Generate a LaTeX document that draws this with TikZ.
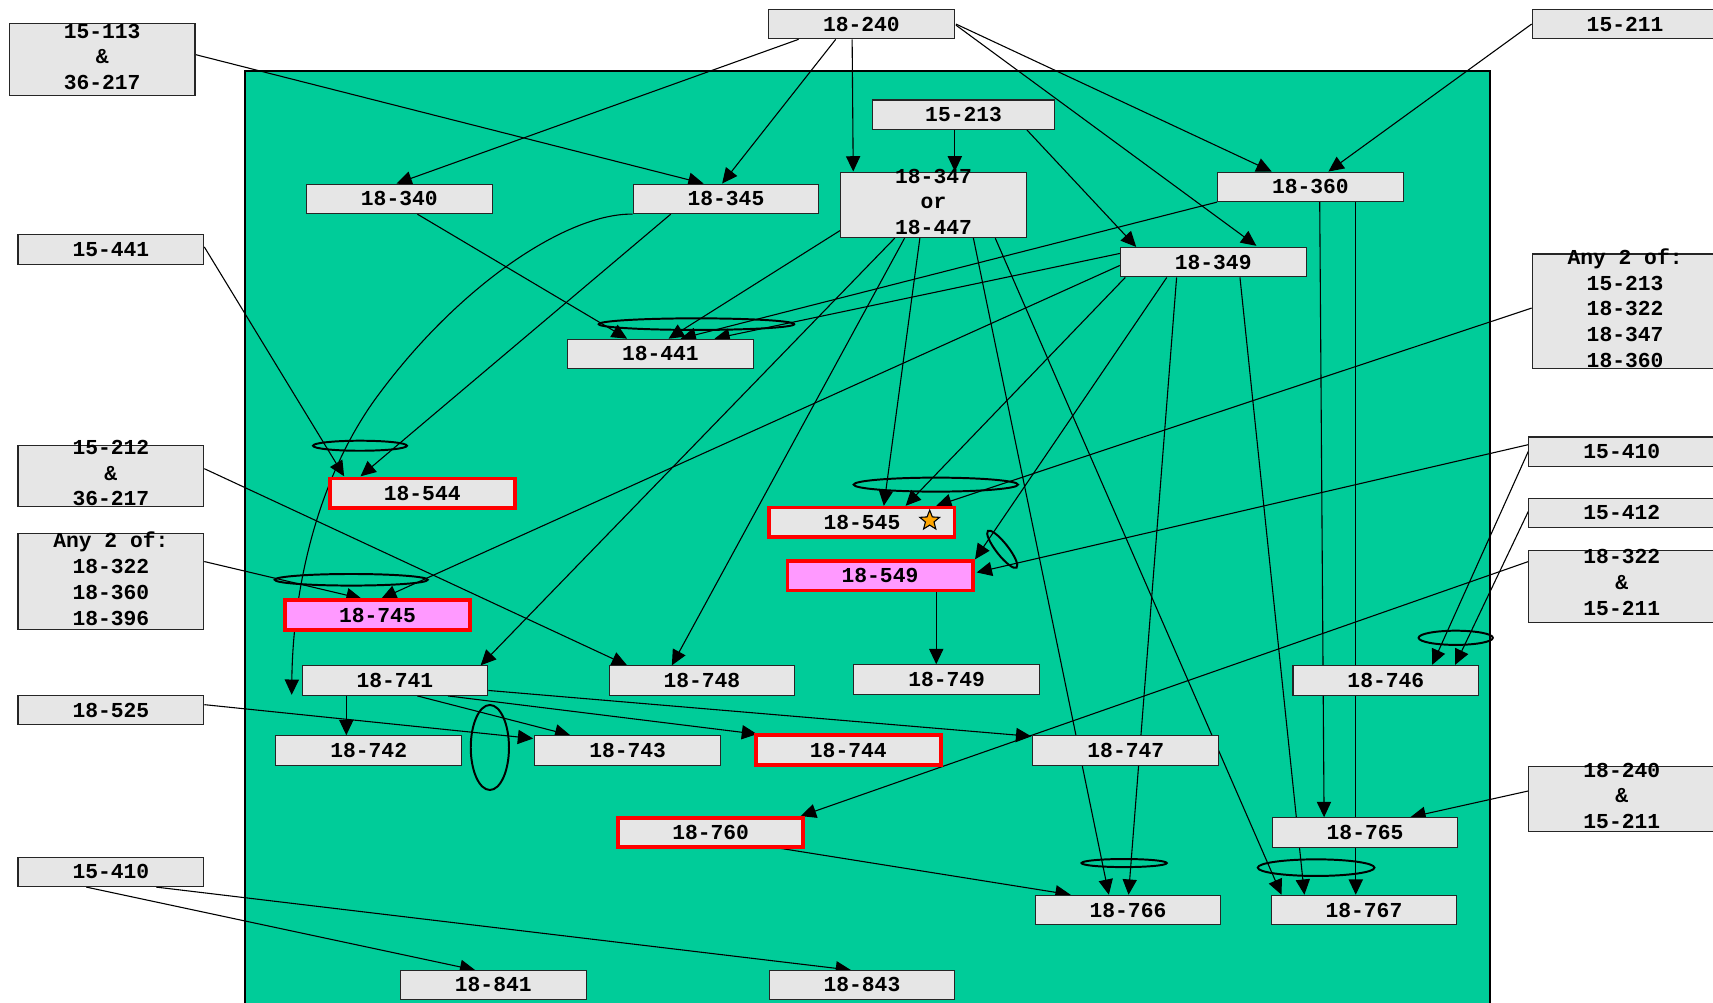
\documentclass[tikz,border=0pt]{standalone}
\usepackage{fontspec}
\newfontfamily\boxfont{Liberation Mono}
\usetikzlibrary{arrows.meta,shapes.geometric}
\definecolor{panelgreen}{HTML}{00CC99}
\definecolor{boxgray}{HTML}{E6E6E6}
\definecolor{hotpink}{HTML}{FF99FF}
\definecolor{starorange}{HTML}{FFA500}
\pgfdeclarelayer{bg}
\pgfdeclarelayer{edges}
\pgfsetlayers{bg,edges,main}

\begin{document}
\begin{tikzpicture}[x=1pt,y=-1pt,
  course/.style={draw=black!85, line width=1pt, fill=boxgray,
    minimum width=170pt, minimum height=27pt, inner sep=0pt,
    font=\boxfont\bfseries\fontsize{19.5}{23.6}\selectfont, align=center},
  flagged/.style={course, draw=red, line width=3.5pt,
    minimum width=169.5pt, minimum height=27pt},
  core/.style={flagged, fill=hotpink},
  lbl/.style={inner sep=0pt, align=center,
    font=\boxfont\bfseries\fontsize{19.5}{23.6}\selectfont},
  req/.style={draw=black, line width=1pt, -{Triangle[length=14pt,width=13pt]}},
  grp/.style={draw=black, line width=1.8pt},
]
\useasboundingbox (0,0) rectangle (1568,918);

% ---------- outer course boxes ----------
\node[course, minimum height=66pt] (n113) at (93.5,54.5) {};
\node[lbl] (n113txt) at (93.5,52) {15-113\\\&\\36-217};
\node[course] (n15441) at (101.5,228.5) {15-441};
\node[course, minimum height=56pt] (n212) at (101.5,435.5) {};
\node[lbl] (n212txt) at (101.5,433) {15-212\\\&\\36-217};
\node[course, minimum height=88pt] (nany3) at (101.5,532.5) {};
\node[lbl] (nany3txt) at (101.5,529.7) {Any 2 of:\\18-322\\18-360\\18-396};
\node[course] (n525) at (101.5,650) {18-525};
\node[course] (n410l) at (101.5,798) {15-410};

\node[course] (n240) at (788.5,22) {18-240};
\node[course, minimum width=167pt] (n213) at (882,105) {15-213};
\node[course] (n211) at (1487.5,22) {15-211};

\node[course, minimum height=105pt] (nany4) at (1487.5,285) {};
\node[lbl] (nany4txt) at (1487.5,282) {Any 2 of:\\15-213\\18-322\\18-347\\18-360};
\node[course] (n410r) at (1484.5,413.5) {15-410};
\node[course] (n412) at (1484.5,469.5) {15-412};
\node[course, minimum height=66pt] (n322) at (1484.5,536.5) {};
\node[lbl] (n322txt) at (1484.5,533.2) {18-322\\\&\\15-211};
\node[course, minimum height=60pt] (n240b) at (1484.5,731.5) {};
\node[lbl] (n240btxt) at (1484.5,728.5) {18-240\\\&\\15-211};

% ---------- courses inside the panel ----------
\node[course] (n340) at (365.5,182) {18-340};
\node[course] (n345) at (664.5,182) {18-345};
\node[course, minimum height=60pt] (n347) at (854.5,187.5) {};
\node[lbl] (n347txt) at (854.5,184.7) {18-347\\or\\18-447};
\node[course] (n360) at (1199.5,171) {18-360};
\node[course] (n349) at (1110.5,240) {18-349};
\node[course] (n441) at (604.5,324) {18-441};
\node[flagged] (n544) at (386.5,451.5) {18-544};
\node[core] (n745) at (345.5,563) {18-745};
\node[course] (n741) at (361.5,623) {18-741};
\node[course] (n742) at (337.5,687) {18-742};
\node[course] (n743) at (574.5,687) {18-743};
\node[flagged] (n545) at (789,478) {18-545};
\node[star, star points=5, star point ratio=2.3, draw=black, line width=1pt,
      fill=starorange, minimum size=19pt, inner sep=0pt] (n545star) at (851,476.5) {};
\node[core] (n549) at (805.5,527) {18-549};
\node[course] (n748) at (642.5,623) {18-748};
\node[course] (n749) at (866.5,622) {18-749};
\node[flagged] (n744) at (776.5,686.5) {18-744};
\node[course] (n747) at (1030.5,687) {18-747};
\node[course] (n746) at (1268.5,623) {18-746};
\node[flagged] (n760) at (650.5,762) {18-760};
\node[course] (n765) at (1249.5,762) {18-765};
\node[course] (n766) at (1032.5,833) {18-766};
\node[course] (n767) at (1248.5,833) {18-767};
\node[course] (n841) at (451.5,901.5) {18-841};
\node[course] (n843) at (789,901.5) {18-843};

\coordinate (c345end) at (267,636);

% ---------- panel ----------
\begin{pgfonlayer}{bg}
  \fill[panelgreen, draw=black, line width=2pt] (224.5,65) rectangle (1364,935);
\end{pgfonlayer}

% ---------- prerequisite arrows ----------
\begin{pgfonlayer}{edges}
\draw[req] ([shift={(-57.5,14)}]n240.center) -- ([shift={(-2.5,-14)}]n340.center);
\draw[req] ([shift={(-23.5,14)}]n240.center) -- ([shift={(-3.5,-14)}]n345.center);
\draw[req] ([shift={(-8.5,14)}]n240.center) -- ([shift={(-73.5,-30.5)}]n347.center);
\draw[req] ([shift={(86.5,1)}]n240.center) -- ([shift={(39.5,-15)}]n349.center);
\draw[req] ([shift={(86.5,0)}]n240.center) -- ([shift={(-35.5,-14)}]n360.center);
\draw[req] ([shift={(-8,14)}]n213.center) -- ([shift={(19.5,-30.5)}]n347.center);
\draw[req] ([shift={(58,14)}]n213.center) -- ([shift={(-70.5,-14)}]n349.center);
\draw[req] ([shift={(85.5,-4.5)}]n113.center) -- ([shift={(-20.5,-14)}]n345.center);
\draw[req] ([shift={(-85.5,0)}]n211.center) -- ([shift={(16.5,-14)}]n360.center);

\draw[req] ([shift={(16.5,14)}]n340.center) -- ([shift={(-30.5,-14)}]n441.center);
\draw[req] ([shift={(-85.5,23.5)}]n347.center) -- ([shift={(7.5,-14)}]n441.center);
\draw[req] ([shift={(-85.5,14)}]n360.center) -- ([shift={(18.5,-14)}]n441.center);
\draw[req] ([shift={(-85.5,-8)}]n349.center) -- ([shift={(49.5,-14)}]n441.center);

\draw[req] (n345.south west) .. controls (520,195) and (420,260) .. (343,366)
  .. controls (290,440) and (268,540) .. (c345end);
\draw[req] ([shift={(-50.5,14)}]n345.center) -- ([shift={(-56.5,-15.5)}]n544.center);
\draw[req] ([shift={(85.5,-2.5)}]n15441.center) -- ([shift={(-71.5,-15.5)}]n544.center);
\draw[req] ([shift={(85.5,-6.5)}]n212.center) -- ([shift={(-68.5,-14)}]n748.center);
\draw[req] ([shift={(85.5,-18.5)}]nany3.center) -- ([shift={(-14.5,-15)}]n745.center);
\draw[req] ([shift={(-85.5,3)}]n349.center) -- ([shift={(3.5,-15)}]n745.center);

\draw[req] ([shift={(-35.5,30.5)}]n347.center) -- ([shift={(78.5,-14)}]n741.center);
\draw[req] ([shift={(-26.5,30.5)}]n347.center) -- ([shift={(-27.5,-14)}]n748.center);
\draw[req] ([shift={(-12.5,30.5)}]n347.center) -- ([shift={(20,-15)}]n545.center);
\draw[req] ([shift={(36.5,30.5)}]n347.center) -- ([shift={(-17.5,-14)}]n766.center);
\draw[req] ([shift={(56.5,30.5)}]n347.center) -- ([shift={(-75.5,-14)}]n767.center);

\draw[req] ([shift={(8.5,14)}]n360.center) -- ([shift={(-37.5,-14)}]n765.center);
\draw[req] ([shift={(41.5,14)}]n360.center) -- ([shift={(-7.5,-14)}]n767.center);

\draw[req] ([shift={(-80.5,14)}]n349.center) -- ([shift={(40,-15)}]n545.center);
\draw[req] ([shift={(-42.5,14)}]n349.center) -- ([shift={(87,-15)}]n549.center);
\draw[req] ([shift={(-33.5,14)}]n349.center) -- ([shift={(0.5,-14)}]n766.center);
\draw[req] ([shift={(24.5,14)}]n349.center) -- ([shift={(-54.5,-14)}]n767.center);

\draw[req] ([shift={(-44.5,14)}]n741.center) -- ([shift={(-20.5,-14)}]n742.center);
\draw[req] ([shift={(20.5,14)}]n741.center) -- ([shift={(-52.5,-14)}]n743.center);
\draw[req] ([shift={(48.5,14)}]n741.center) -- ([shift={(-83.5,-14.5)}]n744.center);
\draw[req] ([shift={(85.5,9)}]n741.center) -- ([shift={(-86.5,-13)}]n747.center);
\draw[req] ([shift={(85.5,-5)}]n525.center) -- ([shift={(-86.5,-11)}]n743.center);

\draw[req] ([shift={(51.5,15)}]n549.center) -- ([shift={(-9.5,-14)}]n749.center);

\draw[req] ([shift={(-85.5,-3)}]nany4.center) -- ([shift={(68,-15)}]n545.center);
\draw[req] ([shift={(-85.5,-6.5)}]n410r.center) -- ([shift={(88.5,-3)}]n549.center);
\draw[req] ([shift={(-85.5,-0.5)}]n410r.center) -- ([shift={(42.5,-14.5)}]n746.center);
\draw[req] ([shift={(-85.5,-1.5)}]n412.center) -- ([shift={(63.5,-14.5)}]n746.center);
\draw[req] ([shift={(-85.5,-22.5)}]n322.center) -- ([shift={(82.5,-15)}]n760.center);
\draw[req] ([shift={(-85.5,-7.5)}]n240b.center) -- ([shift={(41.5,-14)}]n765.center);
\draw[req] ([shift={(60.5,14)}]n760.center) -- ([shift={(-52.5,-14)}]n766.center);

\draw[req] ([shift={(-22.5,14)}]n410l.center) -- ([shift={(-16.5,-13.5)}]n841.center);
\draw[req] ([shift={(41.5,14)}]n410l.center) -- ([shift={(-10,-13.5)}]n843.center);

% ---------- groupings of requirements ----------
\draw[grp] (637.5,296.7) ellipse [x radius=89.5, y radius=5.3];
\draw[grp] (329.5,408) ellipse [x radius=43, y radius=4.6];
\draw[grp] (321.5,530.7) ellipse [x radius=70, y radius=5.3];
\draw[grp] (856.6,443.6) ellipse [x radius=75.2, y radius=6.4];
\draw[grp, rotate around={-52:(917.4,502.8)}] (917.4,502.8) ellipse [x radius=21.3, y radius=5.5];
\draw[grp] (448.4,684.2) ellipse [x radius=17.5, y radius=38.9];
\draw[grp] (1332.5,583.8) ellipse [x radius=34, y radius=6.5];
\draw[grp] (1029,790) ellipse [x radius=39, y radius=3.7];
\draw[grp] (1204.7,794.2) ellipse [x radius=53.4, y radius=7.6];
\end{pgfonlayer}
\end{tikzpicture}
\end{document}
